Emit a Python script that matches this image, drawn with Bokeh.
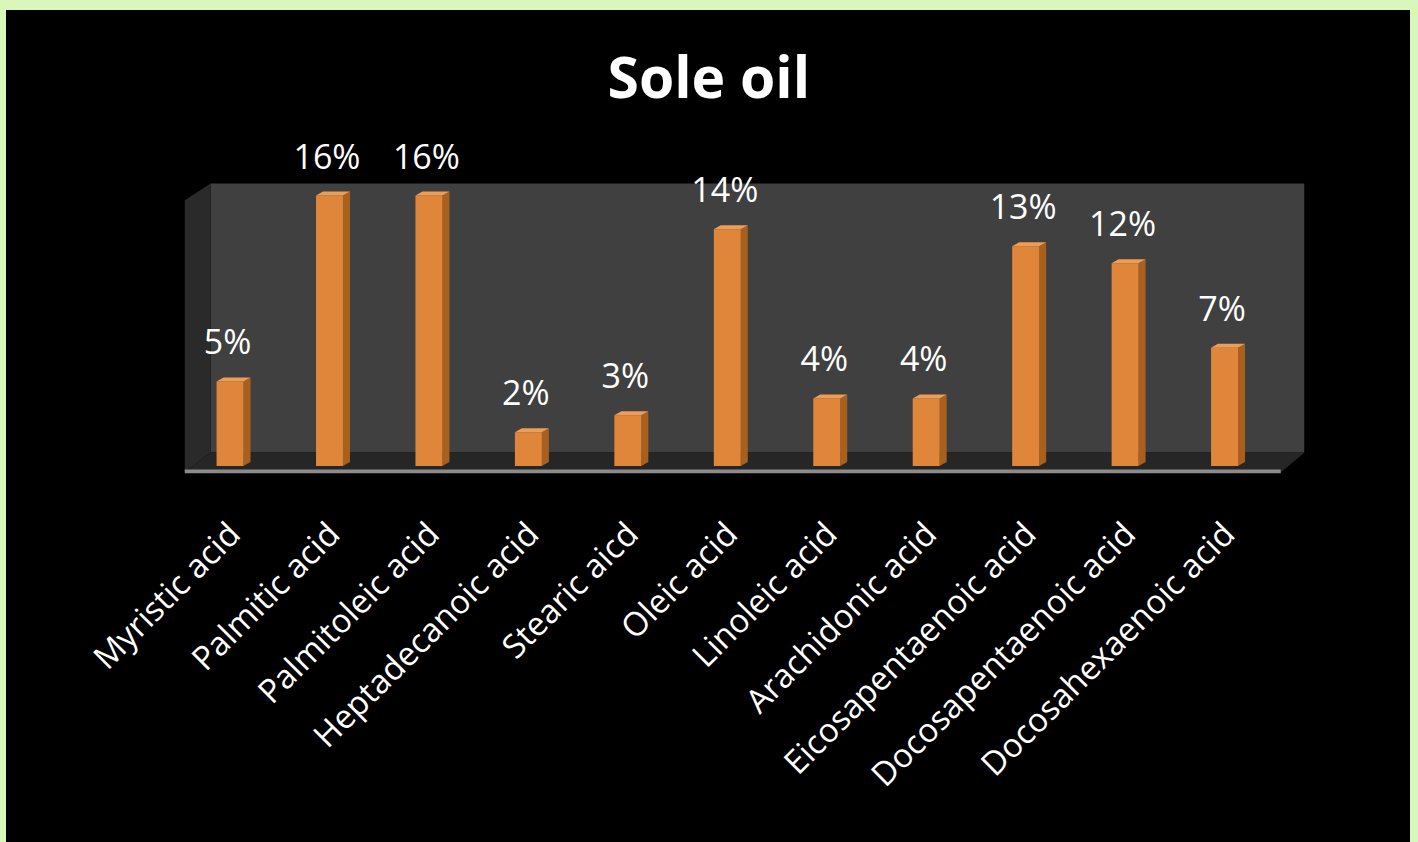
import math
from bokeh.plotting import figure
from bokeh.models import Range1d, FixedTicker, ColumnDataSource, Column
from bokeh.core.properties import value
from bokeh.embed import file_html
from bokeh.resources import INLINE

# ---- data ----
categories = ["Myristic acid", "Palmitic acid", "Palmitoleic acid", "Heptadecanoic acid",
              "Stearic aicd", "Oleic acid", "Linoleic acid", "Arachidonic acid",
              "Eicosapentaenoic acid", "Docosapentaenoic acid", "Docosahexaenoic acid"]
percent_values = [5, 16, 16, 2, 3, 14, 4, 4, 13, 12, 7]
value_labels = [f"{v}%" for v in percent_values]

FONT = "Open Sans"
ORANGE = "#E0863B"
ORANGE_DARK = "#A8601F"
ORANGE_TOP = "#EE9D57"

p = figure(width=1404, height=832, output_backend="svg", toolbar_location=None,
           x_range=Range1d(-0.493, 10.769), y_range=Range1d(-0.444, 19.85),
           y_axis_location=None, min_border_left=178, min_border_right=106,
           min_border_top=120, min_border_bottom=369,
           background_fill_color="black", border_fill_color="black",
           outline_line_color=None)
p.grid.visible = False

# title
p.title.text = "Sole oil"
p.title.text_font = FONT
p.title.text_font_size = "57px"
p.title.text_font_style = "bold"
p.title.text_color = "white"
p.title.align = "left"
p.title.offset = 423
p.title.standoff = 31

# ---- 3D-style chart box (back wall, side wall, floor) ----
px = 1 / 99.45   # one pixel in x data units
py = 1 / 16.9    # one pixel in y data units
x_left, x_wall, x_right, x_floor_r = -0.493, -0.231, 10.769, 10.53
y_top, y_wall_bot, y_front = 16.72, 0.80, -0.385
p.quad(left=x_wall, right=x_right, bottom=y_wall_bot, top=y_top,
       fill_color="#404040", line_color=None)
p.patch([x_left, x_wall, x_wall, x_left], [15.71, y_top, y_wall_bot, y_front],
        fill_color="#2a2a2a", line_color=None)
p.patch([x_left, x_wall, x_right, x_floor_r], [y_front, y_wall_bot, y_wall_bot, y_front],
        fill_color="#262626", line_color=None)
p.quad(left=x_left, right=x_floor_r, bottom=-0.444, top=-0.207,
       fill_color="#8c8c8c", line_color=None)

# ---- bars ----
xs_idx = list(range(len(categories)))
src = ColumnDataSource(dict(x=xs_idx, v=percent_values, lab=value_labels,
                            xf=[i - 0.035 for i in xs_idx]))
side_xs, side_ys, top_xs, top_ys = [], [], [], []
for i, v in zip(xs_idx, percent_values):
    a, b, c = i + 0.10, i + 0.171, i - 0.171
    side_xs.append([a, b, b, a])
    side_ys.append([0, 4 * py, v + 4 * py, v])
    top_xs.append([c, a, b, c + 7 * px])
    top_ys.append([v, v, v + 4 * py, v + 4 * py])
p.patches(side_xs, side_ys, fill_color=ORANGE_DARK, line_color=None)
p.vbar(x="xf", top="v", bottom=0, width=0.271, source=src,
       fill_color=ORANGE, line_color=None)
p.patches(top_xs, top_ys, fill_color=ORANGE_TOP, line_color=None)

# value labels
p.text(x="x", y="v", text="lab", source=src, x_offset=-6, y_offset=-40,
       text_align="center", text_baseline="alphabetic",
       text_font=value(FONT), text_font_size="34px", text_color="white")

# ---- x axis ----
ax = p.xaxis[0]
ax.ticker = FixedTicker(ticks=xs_idx)
ax.major_label_overrides = {i: c for i, c in zip(xs_idx, categories)}
ax.major_label_orientation = math.pi / 4
ax.major_label_text_font = FONT
ax.major_label_text_font_size = "33px"
ax.major_label_text_color = "white"
ax.major_label_standoff = 48
ax.axis_line_color = None
ax.major_tick_line_color = None
ax.minor_tick_line_color = None

inner = Column(children=[p], styles={"background-color": "black"}, margin=(10, 8, 0, 6))
layout = Column(children=[inner], styles={"background-color": "#d9f7bb"})
open("out.html", "w").write(file_html(layout, INLINE))
